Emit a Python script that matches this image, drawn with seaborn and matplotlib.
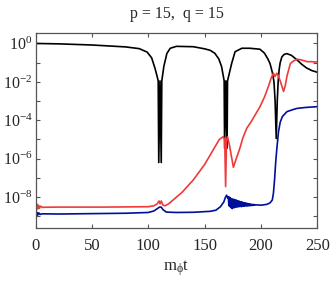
import numpy as np
import pandas as pd
import seaborn as sns
import matplotlib
matplotlib.use('Agg')
import matplotlib.pyplot as plt
from matplotlib.ticker import FixedLocator, FuncFormatter

# values, stored as log10 of the quantity
black_t = [0, 20, 50, 80, 92, 99, 103, 106, 108, 108.8, 109.3, 110.4, 111.5, 112.0, 112.6, 113.8,
           116.5, 119.5, 125, 140, 150, 155, 159, 162.5, 165, 166.7, 167.3, 167.7, 168.8, 169.9,
           170.3, 171.3, 174, 177, 183, 190, 199, 203, 206, 208, 210, 211.5, 212.5, 213.5, 214.4,
           215.2, 216, 217, 218.5, 220.5, 223, 227, 232, 236, 240.5, 245, 250]
black_v = [0, -0.02, -0.08, -0.18, -0.27, -0.45, -0.75, -1.3, -1.75, -1.95, -6.2, -1.95, -6.2, -1.95,
           -1.7, -1.2, -0.52, -0.25, -0.15, -0.17, -0.28, -0.36, -0.51, -0.8, -1.2, -1.75, -1.95,
           -5.45, -1.95, -5.45, -1.95, -1.7, -1.03, -0.43, -0.25, -0.25, -0.3, -0.5, -0.8, -1.05,
           -1.5, -2.0, -3.0, -4.95, -3.0, -2.0, -1.4, -1.0, -0.7, -0.57, -0.53, -0.62, -0.86, -1.08,
           -1.28, -1.41, -1.5]

red_t = [0, 0.5, 1, 1.5, 2, 2.5, 3, 3.5, 4.5, 6, 20, 60, 100, 105, 108, 109.5, 110.5, 111.5, 113,
         115, 118, 124, 130, 140, 150, 158, 163, 166.5, 167.8, 168.6, 169.4, 170.3, 172, 175.5,
         178, 181, 184, 187.5, 191, 195, 199, 203, 206.5, 209, 211, 212.4, 214, 215.5, 217, 220,
         221.5, 223, 226, 229, 232, 236, 241, 245, 250]
red_v = [-8.4, -8.65, -8.35, -8.62, -8.4, -8.6, -8.45, -8.58, -8.47, -8.53, -8.52, -8.52, -8.5,
         -8.45, -8.35, -8.2, -8.35, -8.2, -8.42, -8.45, -8.35, -8.05, -7.75, -7.1, -6.3, -5.5,
         -5.0, -4.85, -5.0, -7.45, -5.0, -4.85, -5.3, -6.45, -6.0, -5.5, -4.9, -4.4, -4.1, -3.7,
         -3.3, -2.8, -2.25, -1.8, -1.55, -1.72, -1.55, -1.7, -1.95, -2.5, -2.2, -1.7, -1.05, -0.9,
         -0.82, -0.86, -0.95, -0.95, -0.97]

blue_t = [0, 0.5, 1, 1.5, 2, 3, 4, 6, 20, 50, 80, 100, 105, 108, 110, 111.5, 113, 116, 125, 140,
          155, 160, 164, 167, 168.5, 169.5, 170.5,
          171.0, 171.5, 172.0, 172.5, 173.0, 173.5, 174.0, 174.5, 175.0, 175.5, 176.0, 176.5,
          177.0, 177.5, 178.0, 178.5, 179.0, 179.5, 180.0, 180.5, 181.0, 181.5, 182.0, 182.5,
          183.0, 183.5, 184.0, 184.5, 185.0, 185.5, 186.0, 186.5, 187.0, 187.5, 188.0, 188.5,
          189.0, 189.5, 190.0, 190.5, 191.0, 191.5, 192.0, 192.5, 193.0, 193.5, 194.0, 194.5,
          195.0, 200, 205, 208, 210, 211, 212, 213, 214, 215.5, 217, 219, 223, 228, 232, 240, 250]
blue_v = [-8.95, -8.75, -8.95, -8.8, -8.93, -8.82, -8.9, -8.87, -8.88, -8.86, -8.84, -8.8, -8.72,
          -8.6, -8.52, -8.52, -8.65, -8.78, -8.8, -8.79, -8.74, -8.68, -8.5, -8.25, -8.0, -7.9,
          -8.05,
          -7.98, -8.45, -8.0, -8.5, -8.05, -8.55, -8.1, -8.6, -8.1, -8.55, -8.12, -8.55,
          -8.15, -8.5, -8.15, -8.52, -8.2, -8.5, -8.2, -8.5, -8.22, -8.48, -8.25, -8.5,
          -8.25, -8.48, -8.28, -8.47, -8.3, -8.47, -8.3, -8.45, -8.32, -8.46, -8.33, -8.45,
          -8.35, -8.45, -8.36, -8.44, -8.37, -8.44, -8.38, -8.43, -8.38, -8.43, -8.39, -8.42,
          -8.4, -8.42, -8.38, -8.3, -8.15, -7.8, -7.1, -6.2, -5.5, -4.6, -4.1, -3.8, -3.55, -3.45,
          -3.38, -3.33, -3.29]

x_ticks = [0, 50, 100, 150, 200, 250]
y_decades = list(range(-9, 1))

sns.set_style('ticks')
plt.rcParams['font.family'] = ['Liberation Serif', 'DejaVu Serif']
plt.rcParams['mathtext.fontset'] = 'custom'
plt.rcParams['mathtext.rm'] = 'Liberation Serif'
plt.rcParams['mathtext.it'] = 'Liberation Serif:italic'

fig = plt.figure(figsize=(3.32, 2.82), dpi=100)
ax = fig.add_axes([0.107, 0.19, 0.849, 0.692])

series = [(black_t, black_v, 'black'), (red_t, red_v, '#f03a3a'), (blue_t, blue_v, '#00109a')]
for t, v, c in series:
    df = pd.DataFrame({'t': t, 'y': 10.0 ** np.array(v)})
    sns.lineplot(data=df, x='t', y='y', ax=ax, color=c, lw=1.2, sort=False, estimator=None)

ax.set_yscale('log')
ax.set_xlim(0, 250)
ax.set_ylim(10 ** -9.63, 10 ** 0.53)
ax.xaxis.set_major_locator(FixedLocator(x_ticks))
ax.yaxis.set_major_locator(FixedLocator([10.0 ** d for d in y_decades]))
ax.yaxis.set_minor_locator(FixedLocator([]))
ax.yaxis.set_major_formatter(FuncFormatter(
    lambda val, pos: r'$\mathregular{10^{%d}}$' % round(np.log10(val)) if round(np.log10(val)) % 2 == 0 else ''))
ax.tick_params(direction='in', length=3, width=0.8, top=True, right=True,
               color='#555555')
ax.tick_params(axis='x', labelsize=12, pad=7)
ax.tick_params(axis='y', labelsize=11.5, pad=2)
for s in ax.spines.values():
    s.set_color('#555555')
    s.set_linewidth(0.9)

ax.set_xlabel(r'm$_{\mathregular{\phi}}$t', fontsize=12, labelpad=3)
ax.set_ylabel('')
ax.set_title('p = 15,  q = 15', fontsize=11.5, pad=11)

plt.savefig('out.png', dpi=100)
